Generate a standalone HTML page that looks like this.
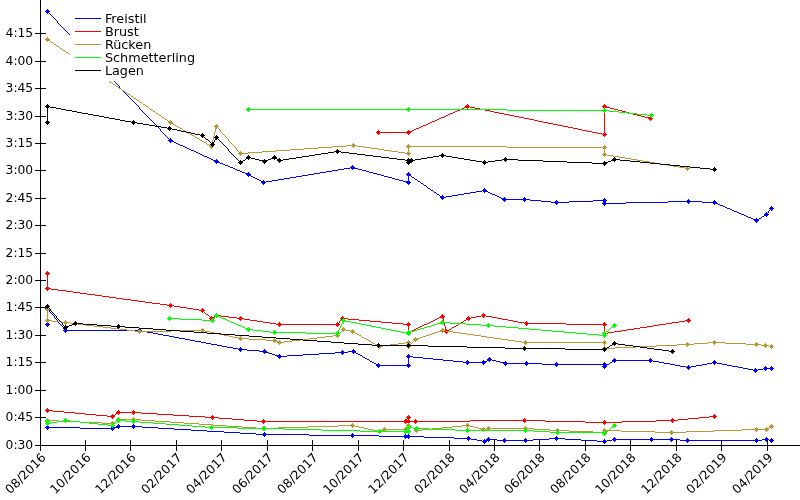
<!DOCTYPE html>
<html lang="de"><head><meta charset="utf-8"><title>Schwimmzeiten</title>
<style>
html,body{margin:0;padding:0;background:#fff;}
body{width:800px;height:500px;overflow:hidden;}
svg{display:block;}
text{font-family:"DejaVu Sans","Liberation Sans",sans-serif;font-size:12px;fill:#000;}
</style></head><body>
<svg width="800" height="500" viewBox="0 0 800 500">
<rect x="0" y="0" width="800" height="500" fill="#ffffff"/>

<g shape-rendering="crispEdges">
<path d="M477 440h5v1h-5zM486 440h2v1h-2zM497 440h36v1h-36zM581 440h16v1h-16zM607 440h5v1h-5zM680 440h82v1h-82zM769 440h3v1h-3zM80 428h34v1h-34zM158 428h16v1h-16zM424 437h30v1h-30zM471 439h6v1h-6zM488 439h9v1h-9zM533 439h16v1h-16zM565 439h16v1h-16zM612 439h68v1h-68zM762 439h7v1h-7zM174 429h17v1h-17zM379 436h45v1h-45zM309 435h70v1h-70zM47 427h33v1h-33zM114 427h3v1h-3zM142 427h16v1h-16zM240 433h16v1h-16zM256 434h53v1h-53zM117 426h25v1h-25zM454 438h17v1h-17zM549 438h16v1h-16zM191 430h16v1h-16zM224 432h16v1h-16zM482 441h4v1h-4zM597 441h10v1h-10zM207 431h17v1h-17z" fill="#0000ff"/>
<path d="M45 427h5v1h-5zM46 426h3v3h-3zM47 425h1v5h-1z" fill="#0000ff"/>
<path d="M110 428h5v1h-5zM111 427h3v3h-3zM112 426h1v5h-1z" fill="#0000ff"/>
<path d="M116 426h5v1h-5zM117 425h3v3h-3zM118 424h1v5h-1z" fill="#0000ff"/>
<path d="M131 426h5v1h-5zM132 425h3v3h-3zM133 424h1v5h-1z" fill="#0000ff"/>
<path d="M262 434h5v1h-5zM263 433h3v3h-3zM264 432h1v5h-1z" fill="#0000ff"/>
<path d="M350 435h5v1h-5zM351 434h3v3h-3zM352 433h1v5h-1z" fill="#0000ff"/>
<path d="M403 436h5v1h-5zM404 435h3v3h-3zM405 434h1v5h-1z" fill="#0000ff"/>
<path d="M406 436h5v1h-5zM407 435h3v3h-3zM408 434h1v5h-1z" fill="#0000ff"/>
<path d="M466 438h5v1h-5zM467 437h3v3h-3zM468 436h1v5h-1z" fill="#0000ff"/>
<path d="M482 441h5v1h-5zM483 440h3v3h-3zM484 439h1v5h-1z" fill="#0000ff"/>
<path d="M486 439h5v1h-5zM487 438h3v3h-3zM488 437h1v5h-1z" fill="#0000ff"/>
<path d="M502 440h5v1h-5zM503 439h3v3h-3zM504 438h1v5h-1z" fill="#0000ff"/>
<path d="M523 440h5v1h-5zM524 439h3v3h-3zM525 438h1v5h-1z" fill="#0000ff"/>
<path d="M554 438h5v1h-5zM555 437h3v3h-3zM556 436h1v5h-1z" fill="#0000ff"/>
<path d="M602 441h5v1h-5zM603 440h3v3h-3zM604 439h1v5h-1z" fill="#0000ff"/>
<path d="M612 439h5v1h-5zM613 438h3v3h-3zM614 437h1v5h-1z" fill="#0000ff"/>
<path d="M649 439h5v1h-5zM650 438h3v3h-3zM651 437h1v5h-1z" fill="#0000ff"/>
<path d="M669 439h5v1h-5zM670 438h3v3h-3zM671 437h1v5h-1z" fill="#0000ff"/>
<path d="M685 440h5v1h-5zM686 439h3v3h-3zM687 438h1v5h-1z" fill="#0000ff"/>
<path d="M754 440h5v1h-5zM755 439h3v3h-3zM756 438h1v5h-1z" fill="#0000ff"/>
<path d="M764 439h5v1h-5zM765 438h3v3h-3zM766 437h1v5h-1z" fill="#0000ff"/>
<path d="M769 440h5v1h-5zM770 439h3v3h-3zM771 438h1v5h-1z" fill="#0000ff"/>
<path d="M370 361h2v1h-2zM453 361h10v1h-10zM485 361h2v1h-2zM496 361h4v1h-4zM612 361h2v1h-2zM653 361h6v1h-6zM195 341h6v1h-6zM376 364h2v1h-2zM542 364h63v1h-63zM607 364h2v1h-2zM670 364h5v1h-5zM702 364h5v1h-5zM722 364h5v1h-5zM443 360h10v1h-10zM487 360h2v1h-2zM492 360h4v1h-4zM614 360h39v1h-39zM65 330h77v1h-77zM365 358h2v1h-2zM423 358h10v1h-10zM372 362h2v1h-2zM463 362h22v1h-22zM500 362h4v1h-4zM610 362h2v1h-2zM659 362h5v1h-5zM712 362h5v1h-5zM374 363h2v1h-2zM504 363h38v1h-38zM664 363h6v1h-6zM707 363h5v1h-5zM717 363h5v1h-5zM275 355h3v1h-3zM287 355h16v1h-16zM360 355h2v1h-2zM190 340h5v1h-5zM158 334h5v1h-5zM278 356h9v1h-9zM408 356h5v1h-5zM259 351h7v1h-7zM348 351h6v1h-6zM142 331h5v1h-5zM272 354h3v1h-3zM303 354h16v1h-16zM358 354h2v1h-2zM367 359h2v1h-2zM433 359h10v1h-10zM489 359h3v1h-3zM233 348h5v1h-5zM247 350h12v1h-12zM743 368h5v1h-5zM763 368h9v1h-9zM206 343h5v1h-5zM185 339h5v1h-5zM153 333h5v1h-5zM238 349h9v1h-9zM217 345h5v1h-5zM680 366h6v1h-6zM691 366h5v1h-5zM732 366h6v1h-6zM269 353h3v1h-3zM319 353h16v1h-16zM356 353h2v1h-2zM378 365h31v1h-31zM604 365h3v1h-3zM675 365h5v1h-5zM696 365h6v1h-6zM727 365h5v1h-5zM266 352h3v1h-3zM335 352h13v1h-13zM354 352h2v1h-2zM47 309h2v1h-2zM179 338h6v1h-6zM363 357h2v1h-2zM413 357h10v1h-10zM748 369h5v1h-5zM758 369h5v1h-5zM222 346h5v1h-5zM686 367h5v1h-5zM738 367h5v1h-5zM163 335h6v1h-6zM174 337h5v1h-5zM227 347h6v1h-6zM147 332h6v1h-6zM211 344h6v1h-6zM201 342h5v1h-5zM169 336h5v1h-5zM753 370h5v1h-5zM408 357h1v8h-1zM369 360h1v1h-1zM47 308h1v1h-1zM47 310h1v15h-1zM55 318h1v1h-1zM609 363h1v1h-1zM362 356h1v1h-1zM51 313h1v1h-1zM58 321h1v2h-1zM604 366h1v1h-1zM54 316h1v2h-1zM50 312h1v1h-1zM57 320h1v1h-1zM49 310h1v2h-1zM60 324h1v1h-1zM59 323h1v1h-1zM52 314h1v1h-1zM53 315h1v1h-1zM56 319h1v1h-1zM61 325h1v1h-1zM62 326h1v1h-1zM64 329h1v1h-1zM63 327h1v2h-1z" fill="#0000ff"/>
<path d="M45 324h5v1h-5zM46 323h3v3h-3zM47 322h1v5h-1z" fill="#0000ff"/>
<path d="M45 308h5v1h-5zM46 307h3v3h-3zM47 306h1v5h-1z" fill="#0000ff"/>
<path d="M63 330h5v1h-5zM64 329h3v3h-3zM65 328h1v5h-1z" fill="#0000ff"/>
<path d="M137 330h5v1h-5zM138 329h3v3h-3zM139 328h1v5h-1z" fill="#0000ff"/>
<path d="M238 349h5v1h-5zM239 348h3v3h-3zM240 347h1v5h-1z" fill="#0000ff"/>
<path d="M262 351h5v1h-5zM263 350h3v3h-3zM264 349h1v5h-1z" fill="#0000ff"/>
<path d="M277 356h5v1h-5zM278 355h3v3h-3zM279 354h1v5h-1z" fill="#0000ff"/>
<path d="M340 352h5v1h-5zM341 351h3v3h-3zM342 350h1v5h-1z" fill="#0000ff"/>
<path d="M351 351h5v1h-5zM352 350h3v3h-3zM353 349h1v5h-1z" fill="#0000ff"/>
<path d="M376 365h5v1h-5zM377 364h3v3h-3zM378 363h1v5h-1z" fill="#0000ff"/>
<path d="M406 365h5v1h-5zM407 364h3v3h-3zM408 363h1v5h-1z" fill="#0000ff"/>
<path d="M406 356h5v1h-5zM407 355h3v3h-3zM408 354h1v5h-1z" fill="#0000ff"/>
<path d="M465 362h5v1h-5zM466 361h3v3h-3zM467 360h1v5h-1z" fill="#0000ff"/>
<path d="M481 362h5v1h-5zM482 361h3v3h-3zM483 360h1v5h-1z" fill="#0000ff"/>
<path d="M487 359h5v1h-5zM488 358h3v3h-3zM489 357h1v5h-1z" fill="#0000ff"/>
<path d="M503 363h5v1h-5zM504 362h3v3h-3zM505 361h1v5h-1z" fill="#0000ff"/>
<path d="M524 363h5v1h-5zM525 362h3v3h-3zM526 361h1v5h-1z" fill="#0000ff"/>
<path d="M554 364h5v1h-5zM555 363h3v3h-3zM556 362h1v5h-1z" fill="#0000ff"/>
<path d="M602 364h5v1h-5zM603 363h3v3h-3zM604 362h1v5h-1z" fill="#0000ff"/>
<path d="M602 366h5v1h-5zM603 365h3v3h-3zM604 364h1v5h-1z" fill="#0000ff"/>
<path d="M612 360h5v1h-5zM613 359h3v3h-3zM614 358h1v5h-1z" fill="#0000ff"/>
<path d="M648 360h5v1h-5zM649 359h3v3h-3zM650 358h1v5h-1z" fill="#0000ff"/>
<path d="M686 367h5v1h-5zM687 366h3v3h-3zM688 365h1v5h-1z" fill="#0000ff"/>
<path d="M712 362h5v1h-5zM713 361h3v3h-3zM714 360h1v5h-1z" fill="#0000ff"/>
<path d="M753 370h5v1h-5zM754 369h3v3h-3zM755 368h1v5h-1z" fill="#0000ff"/>
<path d="M763 368h5v1h-5zM764 367h3v3h-3zM765 366h1v5h-1z" fill="#0000ff"/>
<path d="M769 368h5v1h-5zM770 367h3v3h-3zM771 366h1v5h-1z" fill="#0000ff"/>
<path d="M442 197h4v1h-4zM499 197h2v1h-2zM240 171h2v1h-2zM326 171h6v1h-6zM366 171h3v1h-3zM253 177h2v1h-2zM290 177h6v1h-6zM388 177h4v1h-4zM412 177h2v1h-2zM440 196h2v1h-2zM446 196h6v1h-6zM497 196h2v1h-2zM541 201h10v1h-10zM569 201h24v1h-24zM668 201h34v1h-34zM251 176h2v1h-2zM296 176h6v1h-6zM384 176h4v1h-4zM434 192h2v1h-2zM470 192h6v1h-6zM488 192h2v1h-2zM604 203h22v1h-22zM716 203h2v1h-2zM551 202h18v1h-18zM626 202h42v1h-42zM702 202h14v1h-14zM431 190h2v1h-2zM482 190h4v1h-4zM734 211h3v1h-3zM263 182h3v1h-3zM407 182h2v1h-2zM530 200h11v1h-11zM593 200h12v1h-12zM245 173h2v1h-2zM314 173h6v1h-6zM373 173h4v1h-4zM727 208h3v1h-3zM257 179h2v1h-2zM278 179h6v1h-6zM395 179h4v1h-4zM415 179h2v1h-2zM503 199h27v1h-27zM452 195h6v1h-6zM495 195h2v1h-2zM723 206h2v1h-2zM753 219h2v1h-2zM757 219h2v1h-2zM237 170h3v1h-3zM332 170h6v1h-6zM362 170h4v1h-4zM242 172h3v1h-3zM320 172h6v1h-6zM369 172h4v1h-4zM255 178h2v1h-2zM284 178h6v1h-6zM392 178h3v1h-3zM746 216h2v1h-2zM762 216h2v1h-2zM737 212h2v1h-2zM230 167h3v1h-3zM350 167h4v1h-4zM751 218h2v1h-2zM759 218h2v1h-2zM464 193h6v1h-6zM490 193h2v1h-2zM476 191h6v1h-6zM486 191h2v1h-2zM730 209h2v1h-2zM437 194h2v1h-2zM458 194h6v1h-6zM492 194h3v1h-3zM259 180h2v1h-2zM272 180h6v1h-6zM399 180h4v1h-4zM748 217h3v1h-3zM744 215h2v1h-2zM764 215h2v1h-2zM233 168h2v1h-2zM344 168h6v1h-6zM354 168h4v1h-4zM741 214h3v1h-3zM247 174h2v1h-2zM308 174h6v1h-6zM377 174h4v1h-4zM189 149h2v1h-2zM249 175h2v1h-2zM302 175h6v1h-6zM381 175h3v1h-3zM408 175h3v1h-3zM261 181h2v1h-2zM266 181h6v1h-6zM403 181h4v1h-4zM418 181h2v1h-2zM755 220h2v1h-2zM215 161h3v1h-3zM185 147h2v1h-2zM176 143h2v1h-2zM218 162h2v1h-2zM209 158h2v1h-2zM170 140h2v1h-2zM211 159h2v1h-2zM202 155h2v1h-2zM180 145h3v1h-3zM172 141h2v1h-2zM196 152h2v1h-2zM213 160h2v1h-2zM174 142h2v1h-2zM207 157h2v1h-2zM198 153h2v1h-2zM200 154h2v1h-2zM191 150h3v1h-3zM220 163h3v1h-3zM183 146h2v1h-2zM225 165h3v1h-3zM194 151h2v1h-2zM187 148h2v1h-2zM235 169h2v1h-2zM338 169h6v1h-6zM358 169h4v1h-4zM228 166h2v1h-2zM501 198h2v1h-2zM732 210h2v1h-2zM725 207h2v1h-2zM720 205h3v1h-3zM421 183h2v1h-2zM739 213h2v1h-2zM178 144h2v1h-2zM428 188h2v1h-2zM204 156h3v1h-3zM223 164h2v1h-2zM424 185h2v1h-2zM718 204h2v1h-2zM408 174h1v1h-1zM408 176h1v6h-1zM604 201h1v2h-1zM119 86h1v2h-1zM411 176h1v1h-1zM768 211h1v2h-1zM420 182h1v1h-1zM104 71h1v1h-1zM771 208h1v1h-1zM439 195h1v1h-1zM105 72h1v1h-1zM126 94h1v1h-1zM159 128h1v1h-1zM111 78h1v1h-1zM112 79h1v1h-1zM414 178h1v1h-1zM436 193h1v1h-1zM433 191h1v1h-1zM770 209h1v1h-1zM417 180h1v1h-1zM118 85h1v1h-1zM761 217h1v1h-1zM140 109h1v1h-1zM766 214h1v1h-1zM141 110h1v1h-1zM125 93h1v1h-1zM56 20h1v1h-1zM96 62h1v1h-1zM78 43h1v2h-1zM48 12h1v1h-1zM148 117h1v1h-1zM63 28h1v1h-1zM133 101h1v1h-1zM85 51h1v1h-1zM55 19h1v1h-1zM70 35h1v1h-1zM430 189h1v1h-1zM62 27h1v1h-1zM162 132h1v1h-1zM99 66h1v1h-1zM427 187h1v1h-1zM100 67h1v1h-1zM169 139h1v1h-1zM154 123h1v1h-1zM122 90h1v1h-1zM106 73h1v1h-1zM155 124h1v1h-1zM107 74h1v1h-1zM77 42h1v1h-1zM92 58h1v1h-1zM84 50h1v1h-1zM426 186h1v1h-1zM114 81h1v1h-1zM120 88h1v1h-1zM121 89h1v1h-1zM91 57h1v1h-1zM143 112h1v1h-1zM127 95h1v1h-1zM128 96h1v1h-1zM98 64h1v2h-1zM80 46h1v1h-1zM769 210h1v1h-1zM113 80h1v1h-1zM51 15h1v1h-1zM135 103h1v1h-1zM57 21h1v2h-1zM58 23h1v1h-1zM142 111h1v1h-1zM64 29h1v1h-1zM164 134h1v1h-1zM767 213h1v1h-1zM65 30h1v1h-1zM49 13h1v1h-1zM149 118h1v1h-1zM50 14h1v1h-1zM101 68h1v1h-1zM150 119h1v1h-1zM134 102h1v1h-1zM72 37h1v1h-1zM97 63h1v1h-1zM156 125h1v1h-1zM157 126h1v1h-1zM79 45h1v1h-1zM163 133h1v1h-1zM94 60h1v1h-1zM86 52h1v1h-1zM71 36h1v1h-1zM123 91h1v1h-1zM93 59h1v1h-1zM108 75h1v1h-1zM115 82h1v1h-1zM60 25h1v1h-1zM423 184h1v1h-1zM144 113h1v1h-1zM145 114h1v1h-1zM130 98h1v1h-1zM151 120h1v1h-1zM52 16h1v1h-1zM152 121h1v1h-1zM137 105h1v1h-1zM59 24h1v1h-1zM129 97h1v1h-1zM81 47h1v1h-1zM165 135h1v1h-1zM66 31h1v1h-1zM166 136h1v1h-1zM67 32h1v1h-1zM136 104h1v1h-1zM73 38h1v1h-1zM74 39h1v1h-1zM158 127h1v1h-1zM102 69h1v1h-1zM103 70h1v1h-1zM87 53h1v1h-1zM88 54h1v1h-1zM139 107h1v2h-1zM110 77h1v1h-1zM95 61h1v1h-1zM47 11h1v1h-1zM147 116h1v1h-1zM132 100h1v1h-1zM124 92h1v1h-1zM109 76h1v1h-1zM160 129h1v2h-1zM61 26h1v1h-1zM161 131h1v1h-1zM131 99h1v1h-1zM146 115h1v1h-1zM116 83h1v1h-1zM68 33h1v1h-1zM117 84h1v1h-1zM168 138h1v1h-1zM69 34h1v1h-1zM153 122h1v1h-1zM54 18h1v1h-1zM76 41h1v1h-1zM82 48h1v1h-1zM83 49h1v1h-1zM53 17h1v1h-1zM89 55h1v1h-1zM138 106h1v1h-1zM90 56h1v1h-1zM75 40h1v1h-1zM167 137h1v1h-1z" fill="#0000ff"/>
<path d="M45 11h5v1h-5zM46 10h3v3h-3zM47 9h1v5h-1z" fill="#0000ff"/>
<path d="M168 140h5v1h-5zM169 139h3v3h-3zM170 138h1v5h-1z" fill="#0000ff"/>
<path d="M214 161h5v1h-5zM215 160h3v3h-3zM216 159h1v5h-1z" fill="#0000ff"/>
<path d="M246 174h5v1h-5zM247 173h3v3h-3zM248 172h1v5h-1z" fill="#0000ff"/>
<path d="M261 182h5v1h-5zM262 181h3v3h-3zM263 180h1v5h-1z" fill="#0000ff"/>
<path d="M350 167h5v1h-5zM351 166h3v3h-3zM352 165h1v5h-1z" fill="#0000ff"/>
<path d="M406 182h5v1h-5zM407 181h3v3h-3zM408 180h1v5h-1z" fill="#0000ff"/>
<path d="M406 174h5v1h-5zM407 173h3v3h-3zM408 172h1v5h-1z" fill="#0000ff"/>
<path d="M440 197h5v1h-5zM441 196h3v3h-3zM442 195h1v5h-1z" fill="#0000ff"/>
<path d="M482 190h5v1h-5zM483 189h3v3h-3zM484 188h1v5h-1z" fill="#0000ff"/>
<path d="M502 199h5v1h-5zM503 198h3v3h-3zM504 197h1v5h-1z" fill="#0000ff"/>
<path d="M522 199h5v1h-5zM523 198h3v3h-3zM524 197h1v5h-1z" fill="#0000ff"/>
<path d="M554 202h5v1h-5zM555 201h3v3h-3zM556 200h1v5h-1z" fill="#0000ff"/>
<path d="M602 200h5v1h-5zM603 199h3v3h-3zM604 198h1v5h-1z" fill="#0000ff"/>
<path d="M602 203h5v1h-5zM603 202h3v3h-3zM604 201h1v5h-1z" fill="#0000ff"/>
<path d="M686 201h5v1h-5zM687 200h3v3h-3zM688 199h1v5h-1z" fill="#0000ff"/>
<path d="M712 202h5v1h-5zM713 201h3v3h-3zM714 200h1v5h-1z" fill="#0000ff"/>
<path d="M754 220h5v1h-5zM755 219h3v3h-3zM756 218h1v5h-1z" fill="#0000ff"/>
<path d="M764 214h5v1h-5zM765 213h3v3h-3zM766 212h1v5h-1z" fill="#0000ff"/>
<path d="M769 208h5v1h-5zM770 207h3v3h-3zM771 206h1v5h-1z" fill="#0000ff"/>
<path d="M257 421h149v1h-149zM408 421h62v1h-62zM545 421h40v1h-40zM622 421h34v1h-34zM244 420h13v1h-13zM470 420h75v1h-75zM656 420h22v1h-22zM96 415h11v1h-11zM113 415h2v1h-2zM173 415h16v1h-16zM205 417h14v1h-14zM699 417h10v1h-10zM75 413h10v1h-10zM116 413h2v1h-2zM141 413h16v1h-16zM232 419h12v1h-12zM678 419h10v1h-10zM585 422h37v1h-37zM219 418h13v1h-13zM407 418h2v1h-2zM688 418h11v1h-11zM53 411h11v1h-11zM85 414h11v1h-11zM157 414h16v1h-16zM47 410h6v1h-6zM64 412h11v1h-11zM118 412h23v1h-23zM107 416h6v1h-6zM189 416h16v1h-16zM709 416h6v1h-6zM406 419h1v2h-1zM408 417h1v1h-1zM408 419h1v2h-1zM115 414h1v1h-1z" fill="#ff0000"/>
<path d="M45 410h5v1h-5zM46 409h3v3h-3zM47 408h1v5h-1z" fill="#ff0000"/>
<path d="M110 416h5v1h-5zM111 415h3v3h-3zM112 414h1v5h-1z" fill="#ff0000"/>
<path d="M116 412h5v1h-5zM117 411h3v3h-3zM118 410h1v5h-1z" fill="#ff0000"/>
<path d="M131 412h5v1h-5zM132 411h3v3h-3zM133 410h1v5h-1z" fill="#ff0000"/>
<path d="M210 417h5v1h-5zM211 416h3v3h-3zM212 415h1v5h-1z" fill="#ff0000"/>
<path d="M261 421h5v1h-5zM262 420h3v3h-3zM263 419h1v5h-1z" fill="#ff0000"/>
<path d="M403 421h5v1h-5zM404 420h3v3h-3zM405 419h1v5h-1z" fill="#ff0000"/>
<path d="M406 417h5v1h-5zM407 416h3v3h-3zM408 415h1v5h-1z" fill="#ff0000"/>
<path d="M406 421h5v1h-5zM407 420h3v3h-3zM408 419h1v5h-1z" fill="#ff0000"/>
<path d="M413 421h5v1h-5zM414 420h3v3h-3zM415 419h1v5h-1z" fill="#ff0000"/>
<path d="M522 420h5v1h-5zM523 419h3v3h-3zM524 418h1v5h-1z" fill="#ff0000"/>
<path d="M602 422h5v1h-5zM603 421h3v3h-3zM604 420h1v5h-1z" fill="#ff0000"/>
<path d="M670 420h5v1h-5zM671 419h3v3h-3zM672 418h1v5h-1z" fill="#ff0000"/>
<path d="M712 416h5v1h-5zM713 415h3v3h-3zM714 414h1v5h-1z" fill="#ff0000"/>
<path d="M263 322h7v1h-7zM381 322h11v1h-11zM429 322h2v1h-2zM461 322h2v1h-2zM518 322h6v1h-6zM672 322h7v1h-7zM420 326h2v1h-2zM454 326h2v1h-2zM647 326h6v1h-6zM244 319h6v1h-6zM348 319h11v1h-11zM435 319h2v1h-2zM466 319h2v1h-2zM502 319h6v1h-6zM257 321h6v1h-6zM370 321h11v1h-11zM431 321h2v1h-2zM513 321h5v1h-5zM679 321h6v1h-6zM276 324h62v1h-62zM403 324h6v1h-6zM424 324h3v1h-3zM566 324h39v1h-39zM659 324h7v1h-7zM123 299h8v1h-8zM47 288h4v1h-4zM270 323h6v1h-6zM392 323h11v1h-11zM427 323h2v1h-2zM459 323h2v1h-2zM524 323h42v1h-42zM666 323h6v1h-6zM167 305h7v1h-7zM58 290h8v1h-8zM416 328h2v1h-2zM634 328h6v1h-6zM410 331h2v1h-2zM614 331h7v1h-7zM174 306h6v1h-6zM214 316h2v1h-2zM221 316h8v1h-8zM441 316h2v1h-2zM476 316h5v1h-5zM486 316h6v1h-6zM237 318h7v1h-7zM342 318h6v1h-6zM437 318h2v1h-2zM468 318h3v1h-3zM497 318h5v1h-5zM51 289h7v1h-7zM212 317h2v1h-2zM229 317h8v1h-8zM439 317h2v1h-2zM471 317h5v1h-5zM492 317h5v1h-5zM414 329h2v1h-2zM449 329h2v1h-2zM627 329h7v1h-7zM116 298h7v1h-7zM73 292h7v1h-7zM131 300h7v1h-7zM102 296h7v1h-7zM187 308h6v1h-6zM408 332h2v1h-2zM608 332h6v1h-6zM412 330h2v1h-2zM446 330h3v1h-3zM621 330h6v1h-6zM250 320h7v1h-7zM359 320h11v1h-11zM433 320h2v1h-2zM464 320h2v1h-2zM508 320h5v1h-5zM685 320h4v1h-4zM160 304h7v1h-7zM80 293h7v1h-7zM95 295h7v1h-7zM109 297h7v1h-7zM66 291h7v1h-7zM152 303h8v1h-8zM422 325h2v1h-2zM456 325h2v1h-2zM653 325h6v1h-6zM216 315h5v1h-5zM481 315h5v1h-5zM206 314h2v1h-2zM180 307h7v1h-7zM138 301h7v1h-7zM145 302h7v1h-7zM193 309h6v1h-6zM418 327h2v1h-2zM452 327h2v1h-2zM640 327h7v1h-7zM604 333h4v1h-4zM87 294h8v1h-8zM199 310h4v1h-4zM339 321h1v2h-1zM444 322h1v4h-1zM408 325h1v7h-1zM445 326h1v4h-1zM604 325h1v8h-1zM341 319h1v1h-1zM443 318h1v4h-1zM463 321h1v1h-1zM458 324h1v1h-1zM338 323h1v1h-1zM451 328h1v1h-1zM446 331h1v1h-1zM209 316h1v1h-1zM211 318h1v1h-1zM210 317h1v1h-1zM442 317h1v1h-1zM340 320h1v1h-1zM47 273h1v15h-1zM208 315h1v1h-1zM203 311h1v1h-1zM205 313h1v1h-1zM204 312h1v1h-1z" fill="#ff0000"/>
<path d="M45 273h5v1h-5zM46 272h3v3h-3zM47 271h1v5h-1z" fill="#ff0000"/>
<path d="M45 288h5v1h-5zM46 287h3v3h-3zM47 286h1v5h-1z" fill="#ff0000"/>
<path d="M168 305h5v1h-5zM169 304h3v3h-3zM170 303h1v5h-1z" fill="#ff0000"/>
<path d="M200 310h5v1h-5zM201 309h3v3h-3zM202 308h1v5h-1z" fill="#ff0000"/>
<path d="M209 318h5v1h-5zM210 317h3v3h-3zM211 316h1v5h-1z" fill="#ff0000"/>
<path d="M214 315h5v1h-5zM215 314h3v3h-3zM216 313h1v5h-1z" fill="#ff0000"/>
<path d="M238 318h5v1h-5zM239 317h3v3h-3zM240 316h1v5h-1z" fill="#ff0000"/>
<path d="M277 324h5v1h-5zM278 323h3v3h-3zM279 322h1v5h-1z" fill="#ff0000"/>
<path d="M335 324h5v1h-5zM336 323h3v3h-3zM337 322h1v5h-1z" fill="#ff0000"/>
<path d="M340 318h5v1h-5zM341 317h3v3h-3zM342 316h1v5h-1z" fill="#ff0000"/>
<path d="M406 324h5v1h-5zM407 323h3v3h-3zM408 322h1v5h-1z" fill="#ff0000"/>
<path d="M406 332h5v1h-5zM407 331h3v3h-3zM408 330h1v5h-1z" fill="#ff0000"/>
<path d="M440 316h5v1h-5zM441 315h3v3h-3zM442 314h1v5h-1z" fill="#ff0000"/>
<path d="M444 331h5v1h-5zM445 330h3v3h-3zM446 329h1v5h-1z" fill="#ff0000"/>
<path d="M466 318h5v1h-5zM467 317h3v3h-3zM468 316h1v5h-1z" fill="#ff0000"/>
<path d="M481 315h5v1h-5zM482 314h3v3h-3zM483 313h1v5h-1z" fill="#ff0000"/>
<path d="M524 323h5v1h-5zM525 322h3v3h-3zM526 321h1v5h-1z" fill="#ff0000"/>
<path d="M602 324h5v1h-5zM603 323h3v3h-3zM604 322h1v5h-1z" fill="#ff0000"/>
<path d="M602 333h5v1h-5zM603 332h3v3h-3zM604 331h1v5h-1z" fill="#ff0000"/>
<path d="M686 320h5v1h-5zM687 319h3v3h-3zM688 318h1v5h-1z" fill="#ff0000"/>
<path d="M441 117h3v1h-3zM519 117h5v1h-5zM645 117h4v1h-4zM421 126h2v1h-2zM563 126h5v1h-5zM378 132h32v1h-32zM592 132h5v1h-5zM446 115h2v1h-2zM509 115h5v1h-5zM637 115h4v1h-4zM437 119h2v1h-2zM529 119h5v1h-5zM460 109h2v1h-2zM480 109h5v1h-5zM614 109h4v1h-4zM416 128h3v1h-3zM573 128h5v1h-5zM444 116h2v1h-2zM514 116h5v1h-5zM641 116h4v1h-4zM430 122h2v1h-2zM543 122h5v1h-5zM453 112h2v1h-2zM494 112h5v1h-5zM626 112h3v1h-3zM439 118h2v1h-2zM524 118h5v1h-5zM649 118h2v1h-2zM419 127h2v1h-2zM568 127h5v1h-5zM464 107h2v1h-2zM470 107h5v1h-5zM606 107h4v1h-4zM457 110h3v1h-3zM485 110h5v1h-5zM618 110h4v1h-4zM450 113h3v1h-3zM499 113h5v1h-5zM629 113h4v1h-4zM597 133h5v1h-5zM414 129h2v1h-2zM578 129h4v1h-4zM448 114h2v1h-2zM504 114h5v1h-5zM633 114h4v1h-4zM462 108h2v1h-2zM475 108h5v1h-5zM610 108h4v1h-4zM435 120h2v1h-2zM534 120h4v1h-4zM428 123h2v1h-2zM548 123h5v1h-5zM423 125h3v1h-3zM558 125h5v1h-5zM426 124h2v1h-2zM553 124h5v1h-5zM432 121h3v1h-3zM538 121h5v1h-5zM410 131h2v1h-2zM587 131h5v1h-5zM412 130h2v1h-2zM582 130h5v1h-5zM466 106h4v1h-4zM604 106h2v1h-2zM455 111h2v1h-2zM490 111h4v1h-4zM622 111h4v1h-4zM602 134h3v1h-3zM604 107h1v27h-1z" fill="#ff0000"/>
<path d="M376 132h5v1h-5zM377 131h3v3h-3zM378 130h1v5h-1z" fill="#ff0000"/>
<path d="M406 132h5v1h-5zM407 131h3v3h-3zM408 130h1v5h-1z" fill="#ff0000"/>
<path d="M465 106h5v1h-5zM466 105h3v3h-3zM467 104h1v5h-1z" fill="#ff0000"/>
<path d="M602 134h5v1h-5zM603 133h3v3h-3zM604 132h1v5h-1z" fill="#ff0000"/>
<path d="M602 106h5v1h-5zM603 105h3v3h-3zM604 104h1v5h-1z" fill="#ff0000"/>
<path d="M648 118h5v1h-5zM649 117h3v3h-3zM650 116h1v5h-1z" fill="#ff0000"/>
<path d="M102 423h11v1h-11zM184 423h15v1h-15zM256 428h22v1h-22zM364 428h4v1h-4zM432 428h10v1h-10zM478 428h4v1h-4zM486 428h48v1h-48zM767 428h2v1h-2zM213 425h14v1h-14zM338 425h17v1h-17zM462 425h8v1h-8zM377 431h4v1h-4zM569 431h24v1h-24zM621 431h34v1h-34zM686 431h28v1h-28zM227 426h15v1h-15zM308 426h30v1h-30zM355 426h4v1h-4zM409 426h2v1h-2zM452 426h10v1h-10zM470 426h4v1h-4zM368 429h5v1h-5zM383 429h23v1h-23zM414 429h2v1h-2zM422 429h10v1h-10zM482 429h4v1h-4zM534 429h16v1h-16zM742 429h25v1h-25zM373 430h4v1h-4zM381 430h2v1h-2zM416 430h6v1h-6zM550 430h19v1h-19zM604 430h17v1h-17zM714 430h28v1h-28zM242 427h14v1h-14zM278 427h30v1h-30zM359 427h5v1h-5zM411 427h2v1h-2zM442 427h10v1h-10zM474 427h4v1h-4zM769 427h2v1h-2zM118 419h23v1h-23zM80 422h22v1h-22zM113 422h2v1h-2zM170 422h14v1h-14zM47 420h11v1h-11zM116 420h2v1h-2zM141 420h14v1h-14zM593 432h12v1h-12zM655 432h31v1h-31zM58 421h22v1h-22zM155 421h15v1h-15zM199 424h14v1h-14zM406 427h1v2h-1zM413 428h1v1h-1zM408 425h1v1h-1zM604 431h1v1h-1zM407 426h1v1h-1zM771 426h1v1h-1zM115 421h1v1h-1z" fill="#b99836"/>
<path d="M45 420h5v1h-5zM46 419h3v3h-3zM47 418h1v5h-1z" fill="#b99836"/>
<path d="M110 423h5v1h-5zM111 422h3v3h-3zM112 421h1v5h-1z" fill="#b99836"/>
<path d="M116 419h5v1h-5zM117 418h3v3h-3zM118 417h1v5h-1z" fill="#b99836"/>
<path d="M131 419h5v1h-5zM132 418h3v3h-3zM133 417h1v5h-1z" fill="#b99836"/>
<path d="M261 428h5v1h-5zM262 427h3v3h-3zM263 426h1v5h-1z" fill="#b99836"/>
<path d="M350 425h5v1h-5zM351 424h3v3h-3zM352 423h1v5h-1z" fill="#b99836"/>
<path d="M377 431h5v1h-5zM378 430h3v3h-3zM379 429h1v5h-1z" fill="#b99836"/>
<path d="M382 429h5v1h-5zM383 428h3v3h-3zM384 427h1v5h-1z" fill="#b99836"/>
<path d="M403 429h5v1h-5zM404 428h3v3h-3zM405 427h1v5h-1z" fill="#b99836"/>
<path d="M406 425h5v1h-5zM407 424h3v3h-3zM408 423h1v5h-1z" fill="#b99836"/>
<path d="M414 430h5v1h-5zM415 429h3v3h-3zM416 428h1v5h-1z" fill="#b99836"/>
<path d="M465 425h5v1h-5zM466 424h3v3h-3zM467 423h1v5h-1z" fill="#b99836"/>
<path d="M481 429h5v1h-5zM482 428h3v3h-3zM483 427h1v5h-1z" fill="#b99836"/>
<path d="M486 428h5v1h-5zM487 427h3v3h-3zM488 426h1v5h-1z" fill="#b99836"/>
<path d="M523 428h5v1h-5zM524 427h3v3h-3zM525 426h1v5h-1z" fill="#b99836"/>
<path d="M555 430h5v1h-5zM556 429h3v3h-3zM557 428h1v5h-1z" fill="#b99836"/>
<path d="M602 432h5v1h-5zM603 431h3v3h-3zM604 430h1v5h-1z" fill="#b99836"/>
<path d="M602 430h5v1h-5zM603 429h3v3h-3zM604 428h1v5h-1z" fill="#b99836"/>
<path d="M669 432h5v1h-5zM670 431h3v3h-3zM671 430h1v5h-1z" fill="#b99836"/>
<path d="M754 429h5v1h-5zM755 428h3v3h-3zM756 427h1v5h-1z" fill="#b99836"/>
<path d="M764 429h5v1h-5zM765 428h3v3h-3zM766 427h1v5h-1z" fill="#b99836"/>
<path d="M769 426h5v1h-5zM770 425h3v3h-3zM771 424h1v5h-1z" fill="#b99836"/>
<path d="M210 332h4v1h-4zM353 332h2v1h-2zM435 332h3v1h-3zM453 332h7v1h-7zM238 338h11v1h-11zM309 338h8v1h-8zM364 338h2v1h-2zM417 338h3v1h-3zM494 338h7v1h-7zM375 344h2v1h-2zM390 344h8v1h-8zM677 344h17v1h-17zM746 344h15v1h-15zM266 340h10v1h-10zM292 340h8v1h-8zM368 340h2v1h-2zM508 340h7v1h-7zM373 343h2v1h-2zM398 343h7v1h-7zM694 343h14v1h-14zM725 343h21v1h-21zM135 331h36v1h-36zM205 331h5v1h-5zM350 331h3v1h-3zM438 331h3v1h-3zM446 331h7v1h-7zM78 324h8v1h-8zM604 348h11v1h-11zM249 339h17v1h-17zM300 339h9v1h-9zM366 339h2v1h-2zM415 339h2v1h-2zM501 339h7v1h-7zM278 342h6v1h-6zM371 342h2v1h-2zM405 342h4v1h-4zM522 342h83v1h-83zM708 342h17v1h-17zM214 333h5v1h-5zM355 333h2v1h-2zM432 333h3v1h-3zM460 333h7v1h-7zM224 335h5v1h-5zM333 335h5v1h-5zM359 335h2v1h-2zM426 335h3v1h-3zM474 335h7v1h-7zM103 327h8v1h-8zM379 346h4v1h-4zM636 346h20v1h-20zM769 346h3v1h-3zM111 328h8v1h-8zM47 320h5v1h-5zM219 334h5v1h-5zM357 334h2v1h-2zM429 334h3v1h-3zM467 334h7v1h-7zM119 329h8v1h-8zM343 329h3v1h-3zM615 347h21v1h-21zM233 337h5v1h-5zM317 337h8v1h-8zM362 337h2v1h-2zM420 337h3v1h-3zM487 337h7v1h-7zM127 330h8v1h-8zM171 330h34v1h-34zM346 330h4v1h-4zM441 330h5v1h-5zM377 345h2v1h-2zM383 345h7v1h-7zM408 345h2v1h-2zM656 345h21v1h-21zM761 345h8v1h-8zM52 321h9v1h-9zM276 341h2v1h-2zM284 341h8v1h-8zM515 341h7v1h-7zM229 336h4v1h-4zM325 336h8v1h-8zM423 336h3v1h-3zM481 336h6v1h-6zM61 322h9v1h-9zM86 325h8v1h-8zM94 326h9v1h-9zM70 323h8v1h-8zM340 332h1v1h-1zM408 343h1v2h-1zM408 346h1v1h-1zM410 344h1v1h-1zM604 343h1v5h-1zM414 340h1v1h-1zM411 343h1v1h-1zM341 331h1v1h-1zM47 309h1v11h-1zM412 342h1v1h-1zM339 333h1v1h-1zM338 334h1v1h-1zM342 330h1v1h-1zM370 341h1v1h-1zM413 341h1v1h-1zM361 336h1v1h-1z" fill="#b99836"/>
<path d="M45 309h5v1h-5zM46 308h3v3h-3zM47 307h1v5h-1z" fill="#b99836"/>
<path d="M45 320h5v1h-5zM46 319h3v3h-3zM47 318h1v5h-1z" fill="#b99836"/>
<path d="M63 322h5v1h-5zM64 321h3v3h-3zM65 320h1v5h-1z" fill="#b99836"/>
<path d="M137 331h5v1h-5zM138 330h3v3h-3zM139 329h1v5h-1z" fill="#b99836"/>
<path d="M200 330h5v1h-5zM201 329h3v3h-3zM202 328h1v5h-1z" fill="#b99836"/>
<path d="M238 338h5v1h-5zM239 337h3v3h-3zM240 336h1v5h-1z" fill="#b99836"/>
<path d="M272 340h5v1h-5zM273 339h3v3h-3zM274 338h1v5h-1z" fill="#b99836"/>
<path d="M277 342h5v1h-5zM278 341h3v3h-3zM279 340h1v5h-1z" fill="#b99836"/>
<path d="M335 335h5v1h-5zM336 334h3v3h-3zM337 333h1v5h-1z" fill="#b99836"/>
<path d="M341 329h5v1h-5zM342 328h3v3h-3zM343 327h1v5h-1z" fill="#b99836"/>
<path d="M350 331h5v1h-5zM351 330h3v3h-3zM352 329h1v5h-1z" fill="#b99836"/>
<path d="M377 346h5v1h-5zM378 345h3v3h-3zM379 344h1v5h-1z" fill="#b99836"/>
<path d="M406 342h5v1h-5zM407 341h3v3h-3zM408 340h1v5h-1z" fill="#b99836"/>
<path d="M406 346h5v1h-5zM407 345h3v3h-3zM408 344h1v5h-1z" fill="#b99836"/>
<path d="M413 339h5v1h-5zM414 338h3v3h-3zM415 337h1v5h-1z" fill="#b99836"/>
<path d="M440 330h5v1h-5zM441 329h3v3h-3zM442 328h1v5h-1z" fill="#b99836"/>
<path d="M523 342h5v1h-5zM524 341h3v3h-3zM525 340h1v5h-1z" fill="#b99836"/>
<path d="M602 342h5v1h-5zM603 341h3v3h-3zM604 340h1v5h-1z" fill="#b99836"/>
<path d="M602 348h5v1h-5zM603 347h3v3h-3zM604 346h1v5h-1z" fill="#b99836"/>
<path d="M685 344h5v1h-5zM686 343h3v3h-3zM687 342h1v5h-1z" fill="#b99836"/>
<path d="M712 342h5v1h-5zM713 341h3v3h-3zM714 340h1v5h-1z" fill="#b99836"/>
<path d="M754 344h5v1h-5zM755 343h3v3h-3zM756 342h1v5h-1z" fill="#b99836"/>
<path d="M763 345h5v1h-5zM764 344h3v3h-3zM765 343h1v5h-1z" fill="#b99836"/>
<path d="M769 346h5v1h-5zM770 345h3v3h-3zM771 344h1v5h-1z" fill="#b99836"/>
<path d="M70 55h2v1h-2zM240 153h8v1h-8zM405 153h4v1h-4zM318 147h14v1h-14zM364 147h7v1h-7zM507 147h98v1h-98zM207 144h2v1h-2zM332 146h14v1h-14zM357 146h7v1h-7zM408 146h99v1h-99zM209 145h3v1h-3zM346 145h11v1h-11zM51 42h2v1h-2zM262 151h14v1h-14zM391 151h7v1h-7zM248 152h14v1h-14zM398 152h7v1h-7zM73 57h2v1h-2zM304 148h14v1h-14zM371 148h7v1h-7zM679 167h6v1h-6zM643 161h6v1h-6zM655 163h6v1h-6zM276 150h14v1h-14zM384 150h7v1h-7zM649 162h6v1h-6zM290 149h14v1h-14zM378 149h6v1h-6zM625 158h6v1h-6zM192 135h2v1h-2zM48 40h2v1h-2zM661 164h6v1h-6zM134 98h2v1h-2zM619 157h6v1h-6zM178 127h2v1h-2zM216 127h2v1h-2zM631 159h6v1h-6zM185 131h2v1h-2zM673 166h6v1h-6zM137 100h2v1h-2zM91 69h2v1h-2zM110 82h2v1h-2zM190 134h2v1h-2zM667 165h6v1h-6zM66 52h2v1h-2zM85 65h2v1h-2zM637 160h6v1h-6zM88 67h2v1h-2zM613 156h6v1h-6zM607 155h6v1h-6zM176 126h2v1h-2zM204 142h2v1h-2zM125 92h2v1h-2zM173 124h2v1h-2zM604 154h3v1h-3zM146 106h2v1h-2zM106 79h2v1h-2zM128 94h2v1h-2zM202 141h2v1h-2zM60 48h2v1h-2zM79 61h2v1h-2zM685 168h3v1h-3zM143 104h2v1h-2zM103 77h2v1h-2zM122 90h2v1h-2zM76 59h2v1h-2zM200 140h2v1h-2zM180 128h2v1h-2zM195 137h2v1h-2zM165 119h2v1h-2zM119 88h2v1h-2zM140 102h2v1h-2zM162 117h2v1h-2zM94 71h2v1h-2zM54 44h2v1h-2zM97 73h2v1h-2zM57 46h2v1h-2zM188 133h2v1h-2zM153 111h2v1h-2zM113 84h2v1h-2zM183 130h2v1h-2zM156 113h2v1h-2zM116 86h2v1h-2zM131 96h2v1h-2zM168 121h2v1h-2zM171 123h2v1h-2zM197 138h2v1h-2zM63 50h2v1h-2zM82 63h2v1h-2zM100 75h2v1h-2zM159 115h2v1h-2zM150 109h2v1h-2zM604 148h1v6h-1zM235 147h1v1h-1zM408 147h1v6h-1zM211 144h1v1h-1zM211 146h1v1h-1zM232 144h1v1h-1zM234 146h1v1h-1zM233 145h1v1h-1zM238 151h1v1h-1zM239 152h1v1h-1zM93 70h1v1h-1zM236 148h1v2h-1zM237 150h1v1h-1zM214 132h1v4h-1zM224 135h1v1h-1zM182 129h1v1h-1zM215 128h1v4h-1zM219 129h1v1h-1zM206 143h1v1h-1zM212 140h1v4h-1zM231 143h1v1h-1zM220 130h1v2h-1zM223 134h1v1h-1zM133 97h1v1h-1zM152 110h1v1h-1zM216 126h1v1h-1zM170 122h1v1h-1zM230 142h1v1h-1zM148 107h1v1h-1zM229 141h1v1h-1zM102 76h1v1h-1zM62 49h1v1h-1zM84 64h1v1h-1zM199 139h1v1h-1zM213 136h1v4h-1zM228 139h1v2h-1zM218 128h1v1h-1zM226 137h1v1h-1zM139 101h1v1h-1zM161 116h1v1h-1zM121 89h1v1h-1zM75 58h1v1h-1zM53 43h1v1h-1zM72 56h1v1h-1zM187 132h1v1h-1zM221 132h1v1h-1zM222 133h1v1h-1zM194 136h1v1h-1zM225 136h1v1h-1zM68 53h1v1h-1zM90 68h1v1h-1zM112 83h1v1h-1zM175 125h1v1h-1zM108 80h1v1h-1zM127 93h1v1h-1zM130 95h1v1h-1zM149 108h1v1h-1zM227 138h1v1h-1zM81 62h1v1h-1zM145 105h1v1h-1zM167 120h1v1h-1zM99 74h1v1h-1zM118 87h1v1h-1zM59 47h1v1h-1zM158 114h1v1h-1zM136 99h1v1h-1zM96 72h1v1h-1zM47 39h1v1h-1zM50 41h1v1h-1zM69 54h1v1h-1zM155 112h1v1h-1zM87 66h1v1h-1zM109 81h1v1h-1zM65 51h1v1h-1zM164 118h1v1h-1zM105 78h1v1h-1zM124 91h1v1h-1zM56 45h1v1h-1zM78 60h1v1h-1zM142 103h1v1h-1zM115 85h1v1h-1z" fill="#b99836"/>
<path d="M45 39h5v1h-5zM46 38h3v3h-3zM47 37h1v5h-1z" fill="#b99836"/>
<path d="M168 122h5v1h-5zM169 121h3v3h-3zM170 120h1v5h-1z" fill="#b99836"/>
<path d="M209 146h5v1h-5zM210 145h3v3h-3zM211 144h1v5h-1z" fill="#b99836"/>
<path d="M214 126h5v1h-5zM215 125h3v3h-3zM216 124h1v5h-1z" fill="#b99836"/>
<path d="M238 153h5v1h-5zM239 152h3v3h-3zM240 151h1v5h-1z" fill="#b99836"/>
<path d="M351 145h5v1h-5zM352 144h3v3h-3zM353 143h1v5h-1z" fill="#b99836"/>
<path d="M406 153h5v1h-5zM407 152h3v3h-3zM408 151h1v5h-1z" fill="#b99836"/>
<path d="M406 146h5v1h-5zM407 145h3v3h-3zM408 144h1v5h-1z" fill="#b99836"/>
<path d="M602 147h5v1h-5zM603 146h3v3h-3zM604 145h1v5h-1z" fill="#b99836"/>
<path d="M602 154h5v1h-5zM603 153h3v3h-3zM604 152h1v5h-1z" fill="#b99836"/>
<path d="M685 168h5v1h-5zM686 167h3v3h-3zM687 166h1v5h-1z" fill="#b99836"/>
<path d="M238 428h46v1h-46zM413 428h16v1h-16zM322 430h38v1h-38zM455 430h79v1h-79zM360 431h49v1h-49zM534 431h16v1h-16zM606 431h2v1h-2zM284 429h38v1h-38zM429 429h26v1h-26zM192 426h13v1h-13zM51 422h6v1h-6zM80 422h9v1h-9zM140 422h13v1h-13zM205 427h33v1h-33zM408 427h5v1h-5zM611 427h2v1h-2zM108 425h5v1h-5zM179 425h13v1h-13zM63 420h7v1h-7zM118 420h8v1h-8zM47 423h4v1h-4zM89 423h9v1h-9zM114 423h2v1h-2zM153 423h13v1h-13zM57 421h6v1h-6zM70 421h10v1h-10zM126 421h14v1h-14zM550 432h54v1h-54zM98 424h10v1h-10zM166 424h13v1h-13zM408 428h1v3h-1zM610 428h1v1h-1zM608 430h1v1h-1zM609 429h1v1h-1zM613 426h1v1h-1zM47 421h1v2h-1zM116 422h1v1h-1zM614 425h1v1h-1zM117 421h1v1h-1zM605 432h1v1h-1zM113 424h1v1h-1zM604 433h1v1h-1z" fill="#00ff00"/>
<path d="M45 421h5v1h-5zM46 420h3v3h-3zM47 419h1v5h-1z" fill="#00ff00"/>
<path d="M45 423h5v1h-5zM46 422h3v3h-3zM47 421h1v5h-1z" fill="#00ff00"/>
<path d="M63 420h5v1h-5zM64 419h3v3h-3zM65 418h1v5h-1z" fill="#00ff00"/>
<path d="M110 425h5v1h-5zM111 424h3v3h-3zM112 423h1v5h-1z" fill="#00ff00"/>
<path d="M116 420h5v1h-5zM117 419h3v3h-3zM118 418h1v5h-1z" fill="#00ff00"/>
<path d="M131 421h5v1h-5zM132 420h3v3h-3zM133 419h1v5h-1z" fill="#00ff00"/>
<path d="M209 427h5v1h-5zM210 426h3v3h-3zM211 425h1v5h-1z" fill="#00ff00"/>
<path d="M262 428h5v1h-5zM263 427h3v3h-3zM264 426h1v5h-1z" fill="#00ff00"/>
<path d="M377 431h5v1h-5zM378 430h3v3h-3zM379 429h1v5h-1z" fill="#00ff00"/>
<path d="M403 431h5v1h-5zM404 430h3v3h-3zM405 429h1v5h-1z" fill="#00ff00"/>
<path d="M406 431h5v1h-5zM407 430h3v3h-3zM408 429h1v5h-1z" fill="#00ff00"/>
<path d="M406 427h5v1h-5zM407 426h3v3h-3zM408 425h1v5h-1z" fill="#00ff00"/>
<path d="M414 428h5v1h-5zM415 427h3v3h-3zM416 426h1v5h-1z" fill="#00ff00"/>
<path d="M465 430h5v1h-5zM466 429h3v3h-3zM467 428h1v5h-1z" fill="#00ff00"/>
<path d="M523 430h5v1h-5zM524 429h3v3h-3zM525 428h1v5h-1z" fill="#00ff00"/>
<path d="M555 432h5v1h-5zM556 431h3v3h-3zM557 430h1v5h-1z" fill="#00ff00"/>
<path d="M602 433h5v1h-5zM603 432h3v3h-3zM604 431h1v5h-1z" fill="#00ff00"/>
<path d="M612 425h5v1h-5zM613 424h3v3h-3zM614 423h1v5h-1z" fill="#00ff00"/>
<path d="M180 319h22v1h-22zM225 319h2v1h-2zM234 323h2v1h-2zM356 323h5v1h-5zM437 323h4v1h-4zM450 323h16v1h-16zM262 331h8v1h-8zM396 331h5v1h-5zM410 331h4v1h-4zM552 331h12v1h-12zM606 331h2v1h-2zM238 325h3v1h-3zM366 325h5v1h-5zM431 325h3v1h-3zM481 325h13v1h-13zM306 333h32v1h-32zM406 333h3v1h-3zM576 333h11v1h-11zM202 320h11v1h-11zM227 320h2v1h-2zM343 320h3v1h-3zM241 326h2v1h-2zM371 326h5v1h-5zM427 326h4v1h-4zM494 326h12v1h-12zM253 330h9v1h-9zM391 330h5v1h-5zM414 330h3v1h-3zM541 330h11v1h-11zM270 332h36v1h-36zM401 332h5v1h-5zM408 332h2v1h-2zM564 332h12v1h-12zM587 334h12v1h-12zM243 327h2v1h-2zM376 327h5v1h-5zM424 327h3v1h-3zM506 327h12v1h-12zM611 327h2v1h-2zM231 322h3v1h-3zM351 322h5v1h-5zM441 322h9v1h-9zM247 329h6v1h-6zM386 329h5v1h-5zM417 329h3v1h-3zM529 329h12v1h-12zM169 318h11v1h-11zM222 318h3v1h-3zM229 321h2v1h-2zM346 321h5v1h-5zM218 316h2v1h-2zM245 328h2v1h-2zM381 328h5v1h-5zM420 328h4v1h-4zM518 328h11v1h-11zM236 324h2v1h-2zM361 324h5v1h-5zM434 324h3v1h-3zM466 324h15v1h-15zM216 315h2v1h-2zM599 335h6v1h-6zM220 317h2v1h-2zM213 319h1v1h-1zM342 322h1v2h-1zM338 330h1v2h-1zM341 324h1v2h-1zM614 325h1v1h-1zM604 333h1v2h-1zM340 326h1v2h-1zM613 326h1v1h-1zM608 330h1v1h-1zM337 332h1v1h-1zM605 332h1v1h-1zM339 328h1v2h-1zM609 329h1v1h-1zM214 317h1v2h-1zM343 321h1v1h-1zM215 316h1v1h-1zM610 328h1v1h-1z" fill="#00ff00"/>
<path d="M167 318h5v1h-5zM168 317h3v3h-3zM169 316h1v5h-1z" fill="#00ff00"/>
<path d="M210 320h5v1h-5zM211 319h3v3h-3zM212 318h1v5h-1z" fill="#00ff00"/>
<path d="M214 315h5v1h-5zM215 314h3v3h-3zM216 313h1v5h-1z" fill="#00ff00"/>
<path d="M246 329h5v1h-5zM247 328h3v3h-3zM248 327h1v5h-1z" fill="#00ff00"/>
<path d="M272 332h5v1h-5zM273 331h3v3h-3zM274 330h1v5h-1z" fill="#00ff00"/>
<path d="M335 333h5v1h-5zM336 332h3v3h-3zM337 331h1v5h-1z" fill="#00ff00"/>
<path d="M341 320h5v1h-5zM342 319h3v3h-3zM343 318h1v5h-1z" fill="#00ff00"/>
<path d="M406 333h5v1h-5zM407 332h3v3h-3zM408 331h1v5h-1z" fill="#00ff00"/>
<path d="M406 332h5v1h-5zM407 331h3v3h-3zM408 330h1v5h-1z" fill="#00ff00"/>
<path d="M440 322h5v1h-5zM441 321h3v3h-3zM442 320h1v5h-1z" fill="#00ff00"/>
<path d="M486 325h5v1h-5zM487 324h3v3h-3zM488 323h1v5h-1z" fill="#00ff00"/>
<path d="M602 335h5v1h-5zM603 334h3v3h-3zM604 333h1v5h-1z" fill="#00ff00"/>
<path d="M602 333h5v1h-5zM603 332h3v3h-3zM604 331h1v5h-1z" fill="#00ff00"/>
<path d="M612 325h5v1h-5zM613 324h3v3h-3zM614 323h1v5h-1z" fill="#00ff00"/>
<path d="M248 109h259v1h-259zM507 110h102v1h-102zM619 112h9v1h-9zM609 111h10v1h-10zM637 114h10v1h-10zM628 113h9v1h-9zM647 115h5v1h-5z" fill="#00ff00"/>
<path d="M246 109h5v1h-5zM247 108h3v3h-3zM248 107h1v5h-1z" fill="#00ff00"/>
<path d="M406 109h5v1h-5zM407 108h3v3h-3zM408 107h1v5h-1z" fill="#00ff00"/>
<path d="M602 110h5v1h-5zM603 109h3v3h-3zM604 108h1v5h-1z" fill="#00ff00"/>
<path d="M649 115h5v1h-5zM650 114h3v3h-3zM651 113h1v5h-1z" fill="#00ff00"/>
<path d="M290 339h13v1h-13zM317 341h14v1h-14zM194 332h13v1h-13zM221 334h14v1h-14zM505 348h60v1h-60zM605 348h2v1h-2zM647 348h7v1h-7zM565 349h40v1h-40zM654 349h8v1h-8zM467 347h38v1h-38zM607 347h2v1h-2zM640 347h7v1h-7zM72 324h2v1h-2zM83 324h14v1h-14zM303 340h14v1h-14zM372 345h56v1h-56zM610 345h2v1h-2zM625 345h8v1h-8zM428 346h39v1h-39zM633 346h7v1h-7zM331 342h13v1h-13zM207 333h14v1h-14zM235 335h14v1h-14zM662 350h7v1h-7zM358 344h14v1h-14zM612 344h2v1h-2zM618 344h7v1h-7zM249 336h13v1h-13zM153 329h13v1h-13zM180 331h14v1h-14zM65 327h2v1h-2zM125 327h14v1h-14zM166 330h14v1h-14zM69 325h3v1h-3zM97 325h14v1h-14zM344 343h14v1h-14zM614 343h4v1h-4zM67 326h2v1h-2zM111 326h14v1h-14zM139 328h14v1h-14zM262 337h14v1h-14zM276 338h14v1h-14zM74 323h9v1h-9zM669 351h4v1h-4zM62 323h1v2h-1zM59 320h1v1h-1zM609 346h1v1h-1zM63 325h1v1h-1zM64 326h1v1h-1zM50 309h1v2h-1zM61 322h1v1h-1zM54 314h1v1h-1zM53 313h1v1h-1zM56 316h1v2h-1zM55 315h1v1h-1zM47 306h1v1h-1zM48 307h1v1h-1zM51 311h1v1h-1zM57 318h1v1h-1zM58 319h1v1h-1zM49 308h1v1h-1zM60 321h1v1h-1zM52 312h1v1h-1z" fill="#000000"/>
<path d="M45 306h5v1h-5zM46 305h3v3h-3zM47 304h1v5h-1z" fill="#000000"/>
<path d="M63 327h5v1h-5zM64 326h3v3h-3zM65 325h1v5h-1z" fill="#000000"/>
<path d="M73 323h5v1h-5zM74 322h3v3h-3zM75 321h1v5h-1z" fill="#000000"/>
<path d="M116 326h5v1h-5zM117 325h3v3h-3zM118 324h1v5h-1z" fill="#000000"/>
<path d="M376 345h5v1h-5zM377 344h3v3h-3zM378 343h1v5h-1z" fill="#000000"/>
<path d="M406 345h5v1h-5zM407 344h3v3h-3zM408 343h1v5h-1z" fill="#000000"/>
<path d="M522 348h5v1h-5zM523 347h3v3h-3zM524 346h1v5h-1z" fill="#000000"/>
<path d="M602 349h5v1h-5zM603 348h3v3h-3zM604 347h1v5h-1z" fill="#000000"/>
<path d="M612 343h5v1h-5zM613 342h3v3h-3zM614 341h1v5h-1z" fill="#000000"/>
<path d="M670 351h5v1h-5zM671 350h3v3h-3zM672 349h1v5h-1z" fill="#000000"/>
<path d="M309 155h6v1h-6zM365 155h8v1h-8zM439 155h7v1h-7zM246 158h2v1h-2zM251 158h4v1h-4zM271 158h2v1h-2zM275 158h2v1h-2zM289 158h7v1h-7zM389 158h8v1h-8zM421 158h6v1h-6zM458 158h6v1h-6zM302 156h7v1h-7zM373 156h8v1h-8zM433 156h6v1h-6zM446 156h6v1h-6zM255 159h4v1h-4zM268 159h3v1h-3zM277 159h2v1h-2zM283 159h6v1h-6zM397 159h8v1h-8zM415 159h6v1h-6zM464 159h6v1h-6zM502 159h16v1h-16zM613 159h7v1h-7zM482 162h6v1h-6zM567 162h25v1h-25zM606 162h2v1h-2zM640 162h10v1h-10zM61 109h5v1h-5zM592 163h14v1h-14zM650 163h10v1h-10zM125 121h6v1h-6zM248 157h3v1h-3zM273 157h2v1h-2zM296 157h6v1h-6zM381 157h8v1h-8zM427 157h6v1h-6zM452 157h6v1h-6zM243 160h2v1h-2zM259 160h4v1h-4zM266 160h2v1h-2zM279 160h4v1h-4zM405 160h4v1h-4zM411 160h4v1h-4zM470 160h6v1h-6zM495 160h7v1h-7zM518 160h25v1h-25zM611 160h2v1h-2zM620 160h10v1h-10zM155 126h6v1h-6zM334 151h7v1h-7zM241 161h2v1h-2zM263 161h3v1h-3zM408 161h3v1h-3zM476 161h6v1h-6zM488 161h7v1h-7zM543 161h24v1h-24zM608 161h3v1h-3zM630 161h10v1h-10zM700 168h10v1h-10zM186 132h5v1h-5zM167 128h5v1h-5zM104 117h5v1h-5zM72 111h5v1h-5zM328 152h6v1h-6zM341 152h8v1h-8zM137 123h6v1h-6zM660 164h10v1h-10zM77 112h5v1h-5zM56 108h5v1h-5zM321 153h7v1h-7zM349 153h8v1h-8zM670 165h10v1h-10zM690 167h10v1h-10zM109 118h6v1h-6zM88 114h5v1h-5zM710 169h5v1h-5zM206 139h2v1h-2zM143 124h6v1h-6zM177 130h4v1h-4zM93 115h6v1h-6zM191 133h4v1h-4zM172 129h5v1h-5zM315 154h6v1h-6zM357 154h8v1h-8zM680 166h10v1h-10zM66 110h6v1h-6zM47 106h3v1h-3zM131 122h6v1h-6zM99 116h5v1h-5zM195 134h5v1h-5zM82 113h6v1h-6zM50 107h6v1h-6zM115 119h5v1h-5zM181 131h5v1h-5zM161 127h6v1h-6zM120 120h5v1h-5zM200 135h3v1h-3zM149 125h6v1h-6zM233 155h1v1h-1zM236 158h1v1h-1zM234 156h1v1h-1zM237 159h1v1h-1zM245 159h1v1h-1zM240 162h1v1h-1zM408 162h1v1h-1zM47 107h1v16h-1zM235 157h1v1h-1zM238 160h1v1h-1zM229 151h1v1h-1zM239 161h1v1h-1zM230 152h1v1h-1zM231 153h1v1h-1zM215 138h1v2h-1zM218 139h1v1h-1zM232 154h1v1h-1zM208 140h1v1h-1zM214 140h1v2h-1zM219 140h1v1h-1zM205 138h1v1h-1zM217 138h1v1h-1zM203 136h1v1h-1zM209 141h1v1h-1zM220 141h1v1h-1zM225 146h1v1h-1zM226 147h1v1h-1zM210 142h1v1h-1zM213 142h1v2h-1zM221 142h1v1h-1zM228 149h1v2h-1zM211 143h1v1h-1zM222 143h1v1h-1zM227 148h1v1h-1zM204 137h1v1h-1zM216 137h1v1h-1zM212 144h1v1h-1zM223 144h1v1h-1zM224 145h1v1h-1z" fill="#000000"/>
<path d="M45 122h5v1h-5zM46 121h3v3h-3zM47 120h1v5h-1z" fill="#000000"/>
<path d="M45 106h5v1h-5zM46 105h3v3h-3zM47 104h1v5h-1z" fill="#000000"/>
<path d="M131 122h5v1h-5zM132 121h3v3h-3zM133 120h1v5h-1z" fill="#000000"/>
<path d="M167 128h5v1h-5zM168 127h3v3h-3zM169 126h1v5h-1z" fill="#000000"/>
<path d="M200 135h5v1h-5zM201 134h3v3h-3zM202 133h1v5h-1z" fill="#000000"/>
<path d="M210 144h5v1h-5zM211 143h3v3h-3zM212 142h1v5h-1z" fill="#000000"/>
<path d="M214 137h5v1h-5zM215 136h3v3h-3zM216 135h1v5h-1z" fill="#000000"/>
<path d="M238 162h5v1h-5zM239 161h3v3h-3zM240 160h1v5h-1z" fill="#000000"/>
<path d="M246 157h5v1h-5zM247 156h3v3h-3zM248 155h1v5h-1z" fill="#000000"/>
<path d="M262 161h5v1h-5zM263 160h3v3h-3zM264 159h1v5h-1z" fill="#000000"/>
<path d="M272 157h5v1h-5zM273 156h3v3h-3zM274 155h1v5h-1z" fill="#000000"/>
<path d="M277 160h5v1h-5zM278 159h3v3h-3zM279 158h1v5h-1z" fill="#000000"/>
<path d="M335 151h5v1h-5zM336 150h3v3h-3zM337 149h1v5h-1z" fill="#000000"/>
<path d="M406 160h5v1h-5zM407 159h3v3h-3zM408 158h1v5h-1z" fill="#000000"/>
<path d="M406 162h5v1h-5zM407 161h3v3h-3zM408 160h1v5h-1z" fill="#000000"/>
<path d="M409 160h5v1h-5zM410 159h3v3h-3zM411 158h1v5h-1z" fill="#000000"/>
<path d="M440 155h5v1h-5zM441 154h3v3h-3zM442 153h1v5h-1z" fill="#000000"/>
<path d="M482 162h5v1h-5zM483 161h3v3h-3zM484 160h1v5h-1z" fill="#000000"/>
<path d="M503 159h5v1h-5zM504 158h3v3h-3zM505 157h1v5h-1z" fill="#000000"/>
<path d="M602 163h5v1h-5zM603 162h3v3h-3zM604 161h1v5h-1z" fill="#000000"/>
<path d="M612 159h5v1h-5zM613 158h3v3h-3zM614 157h1v5h-1z" fill="#000000"/>
<path d="M712 169h5v1h-5zM713 168h3v3h-3zM714 167h1v5h-1z" fill="#000000"/>
<rect x="70" y="8" width="135" height="73" fill="#ffffff"/>
<rect x="75" y="18" width="26" height="1" fill="#0000ff"/>
<rect x="75" y="31" width="26" height="1" fill="#ff0000"/>
<rect x="75" y="44" width="26" height="1" fill="#b99836"/>
<rect x="75" y="57" width="26" height="1" fill="#00ff00"/>
<rect x="75" y="70" width="26" height="1" fill="#000000"/>
<rect x="40" y="0" width="1" height="451" fill="#000"/>
<rect x="35" y="445" width="765" height="1" fill="#000"/>
<rect x="85" y="440" width="1" height="11" fill="#000"/>
<rect x="130" y="440" width="1" height="11" fill="#000"/>
<rect x="176" y="440" width="1" height="11" fill="#000"/>
<rect x="221" y="440" width="1" height="11" fill="#000"/>
<rect x="267" y="440" width="1" height="11" fill="#000"/>
<rect x="312" y="440" width="1" height="11" fill="#000"/>
<rect x="358" y="440" width="1" height="11" fill="#000"/>
<rect x="403" y="440" width="1" height="11" fill="#000"/>
<rect x="449" y="440" width="1" height="11" fill="#000"/>
<rect x="494" y="440" width="1" height="11" fill="#000"/>
<rect x="539" y="440" width="1" height="11" fill="#000"/>
<rect x="585" y="440" width="1" height="11" fill="#000"/>
<rect x="630" y="440" width="1" height="11" fill="#000"/>
<rect x="676" y="440" width="1" height="11" fill="#000"/>
<rect x="721" y="440" width="1" height="11" fill="#000"/>
<rect x="767" y="440" width="1" height="11" fill="#000"/>
<rect x="35" y="417" width="11" height="1" fill="#000"/>
<rect x="35" y="390" width="11" height="1" fill="#000"/>
<rect x="35" y="362" width="11" height="1" fill="#000"/>
<rect x="35" y="335" width="11" height="1" fill="#000"/>
<rect x="35" y="307" width="11" height="1" fill="#000"/>
<rect x="35" y="280" width="11" height="1" fill="#000"/>
<rect x="35" y="253" width="11" height="1" fill="#000"/>
<rect x="35" y="225" width="11" height="1" fill="#000"/>
<rect x="35" y="198" width="11" height="1" fill="#000"/>
<rect x="35" y="170" width="11" height="1" fill="#000"/>
<rect x="35" y="143" width="11" height="1" fill="#000"/>
<rect x="35" y="116" width="11" height="1" fill="#000"/>
<rect x="35" y="88" width="11" height="1" fill="#000"/>
<rect x="35" y="61" width="11" height="1" fill="#000"/>
<rect x="35" y="33" width="11" height="1" fill="#000"/>
</g>
<text x="104.9" y="22.8" style="font-size:12.8px">Freistil</text>
<text x="104.9" y="35.8" style="font-size:12.8px">Brust</text>
<text x="104.9" y="48.8" style="font-size:12.8px">Rücken</text>
<text x="104.9" y="61.8" style="font-size:12.8px">Schmetterling</text>
<text x="104.9" y="74.8" style="font-size:12.8px">Lagen</text>
<text x="33.2" y="449.2" text-anchor="end" style="font-size:12.3px">0:30</text>
<text x="33.2" y="421.2" text-anchor="end" style="font-size:12.3px">0:45</text>
<text x="33.2" y="394.2" text-anchor="end" style="font-size:12.3px">1:00</text>
<text x="33.2" y="366.2" text-anchor="end" style="font-size:12.3px">1:15</text>
<text x="33.2" y="339.2" text-anchor="end" style="font-size:12.3px">1:30</text>
<text x="33.2" y="311.2" text-anchor="end" style="font-size:12.3px">1:45</text>
<text x="33.2" y="284.2" text-anchor="end" style="font-size:12.3px">2:00</text>
<text x="33.2" y="257.2" text-anchor="end" style="font-size:12.3px">2:15</text>
<text x="33.2" y="229.2" text-anchor="end" style="font-size:12.3px">2:30</text>
<text x="33.2" y="202.2" text-anchor="end" style="font-size:12.3px">2:45</text>
<text x="33.2" y="174.2" text-anchor="end" style="font-size:12.3px">3:00</text>
<text x="33.2" y="147.2" text-anchor="end" style="font-size:12.3px">3:15</text>
<text x="33.2" y="120.2" text-anchor="end" style="font-size:12.3px">3:30</text>
<text x="33.2" y="92.2" text-anchor="end" style="font-size:12.3px">3:45</text>
<text x="33.2" y="65.2" text-anchor="end" style="font-size:12.3px">4:00</text>
<text x="33.2" y="37.2" text-anchor="end" style="font-size:12.3px">4:15</text>
<text transform="translate(46.5,458.3) rotate(-45)" text-anchor="end" style="font-size:12.3px">08/2016</text>
<text transform="translate(91.5,458.3) rotate(-45)" text-anchor="end" style="font-size:12.3px">10/2016</text>
<text transform="translate(136.5,458.3) rotate(-45)" text-anchor="end" style="font-size:12.3px">12/2016</text>
<text transform="translate(182.5,458.3) rotate(-45)" text-anchor="end" style="font-size:12.3px">02/2017</text>
<text transform="translate(227.5,458.3) rotate(-45)" text-anchor="end" style="font-size:12.3px">04/2017</text>
<text transform="translate(273.5,458.3) rotate(-45)" text-anchor="end" style="font-size:12.3px">06/2017</text>
<text transform="translate(318.5,458.3) rotate(-45)" text-anchor="end" style="font-size:12.3px">08/2017</text>
<text transform="translate(364.5,458.3) rotate(-45)" text-anchor="end" style="font-size:12.3px">10/2017</text>
<text transform="translate(409.5,458.3) rotate(-45)" text-anchor="end" style="font-size:12.3px">12/2017</text>
<text transform="translate(455.5,458.3) rotate(-45)" text-anchor="end" style="font-size:12.3px">02/2018</text>
<text transform="translate(500.5,458.3) rotate(-45)" text-anchor="end" style="font-size:12.3px">04/2018</text>
<text transform="translate(545.5,458.3) rotate(-45)" text-anchor="end" style="font-size:12.3px">06/2018</text>
<text transform="translate(591.5,458.3) rotate(-45)" text-anchor="end" style="font-size:12.3px">08/2018</text>
<text transform="translate(636.5,458.3) rotate(-45)" text-anchor="end" style="font-size:12.3px">10/2018</text>
<text transform="translate(682.5,458.3) rotate(-45)" text-anchor="end" style="font-size:12.3px">12/2018</text>
<text transform="translate(727.5,458.3) rotate(-45)" text-anchor="end" style="font-size:12.3px">02/2019</text>
<text transform="translate(773.5,458.3) rotate(-45)" text-anchor="end" style="font-size:12.3px">04/2019</text>
</svg></body></html>
